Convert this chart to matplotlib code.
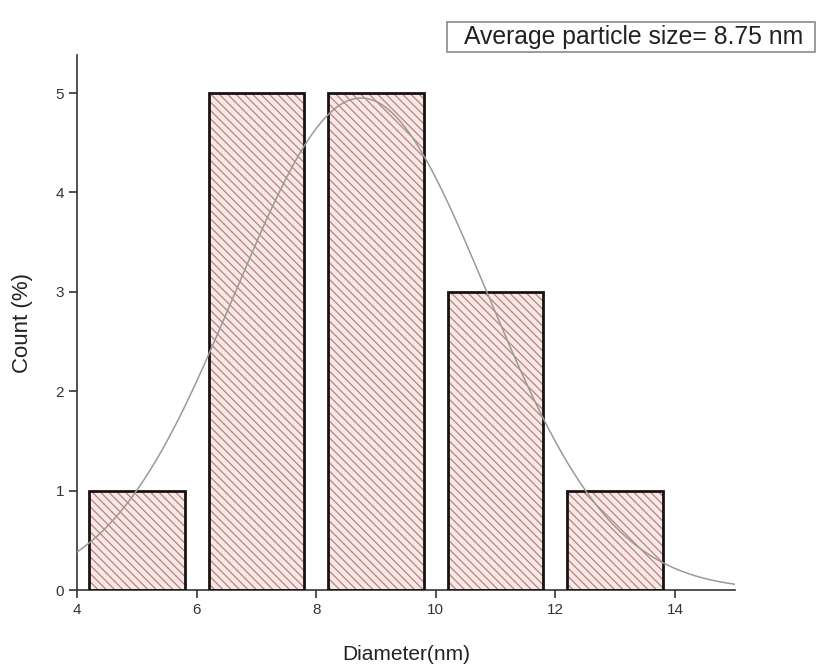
import matplotlib.pyplot as plt
import numpy as np
from matplotlib.patches import Rectangle

plt.rcParams['font.family'] = ['Liberation Sans', 'DejaVu Sans']
plt.rcParams['hatch.linewidth'] = 0.9

# histogram data
bin_centers = [5, 7, 9, 11, 13]
counts = [1, 5, 5, 3, 1]
bar_width = 1.6

# gaussian fit parameters
fit_center = 8.75
fit_sigma = 2.1
fit_amp = 4.95

fig = plt.figure(figsize=(8.2, 6.66), dpi=100)
ax = fig.add_axes([0.094, 0.114, 0.802, 0.803])

# hatched fill first, then black outlines on top
ax.bar(bin_centers, counts, width=bar_width, color='#f7e8e6',
       edgecolor='#b8817c', linewidth=0, hatch='\\\\\\\\', zorder=2)
ax.bar(bin_centers, counts, width=bar_width, fill=False,
       edgecolor='#1a1212', linewidth=2, zorder=3)

xs = np.linspace(4, 15, 300)
ax.plot(xs, fit_amp * np.exp(-(xs - fit_center) ** 2 / (2 * fit_sigma ** 2)),
        color='#9a9a9a', linewidth=1.1, zorder=4)

ax.set_xlim(4, 15)
ax.set_ylim(0, 5.38)
ax.set_xticks([4, 6, 8, 10, 12, 14])
ax.set_yticks([0, 1, 2, 3, 4, 5])
ax.spines['top'].set_visible(False)
ax.spines['right'].set_visible(False)
for s in ('left', 'bottom'):
    ax.spines[s].set_color('#333333')
    ax.spines[s].set_linewidth(1.2)
ax.tick_params(direction='out', length=6, width=1.2, labelsize=11, colors='#333333')

ax.set_xlabel('Diameter(nm)', fontsize=15, labelpad=20, color='#222222')
ax.set_ylabel('Count (%)', fontsize=16, labelpad=16, color='#222222')

# legend-like annotation box
fig.patches.append(Rectangle((447 / 820, 1 - 52 / 666), 368 / 820, 30 / 666,
                             transform=fig.transFigure, facecolor='white',
                             edgecolor='#8a8a8a', linewidth=1.2))
fig.text(634 / 820, 1 - 37 / 666, 'Average particle size= 8.75 nm', fontsize=17.8,
         ha='center', va='center', color='#222222')

fig.savefig('out.png', dpi=100)
